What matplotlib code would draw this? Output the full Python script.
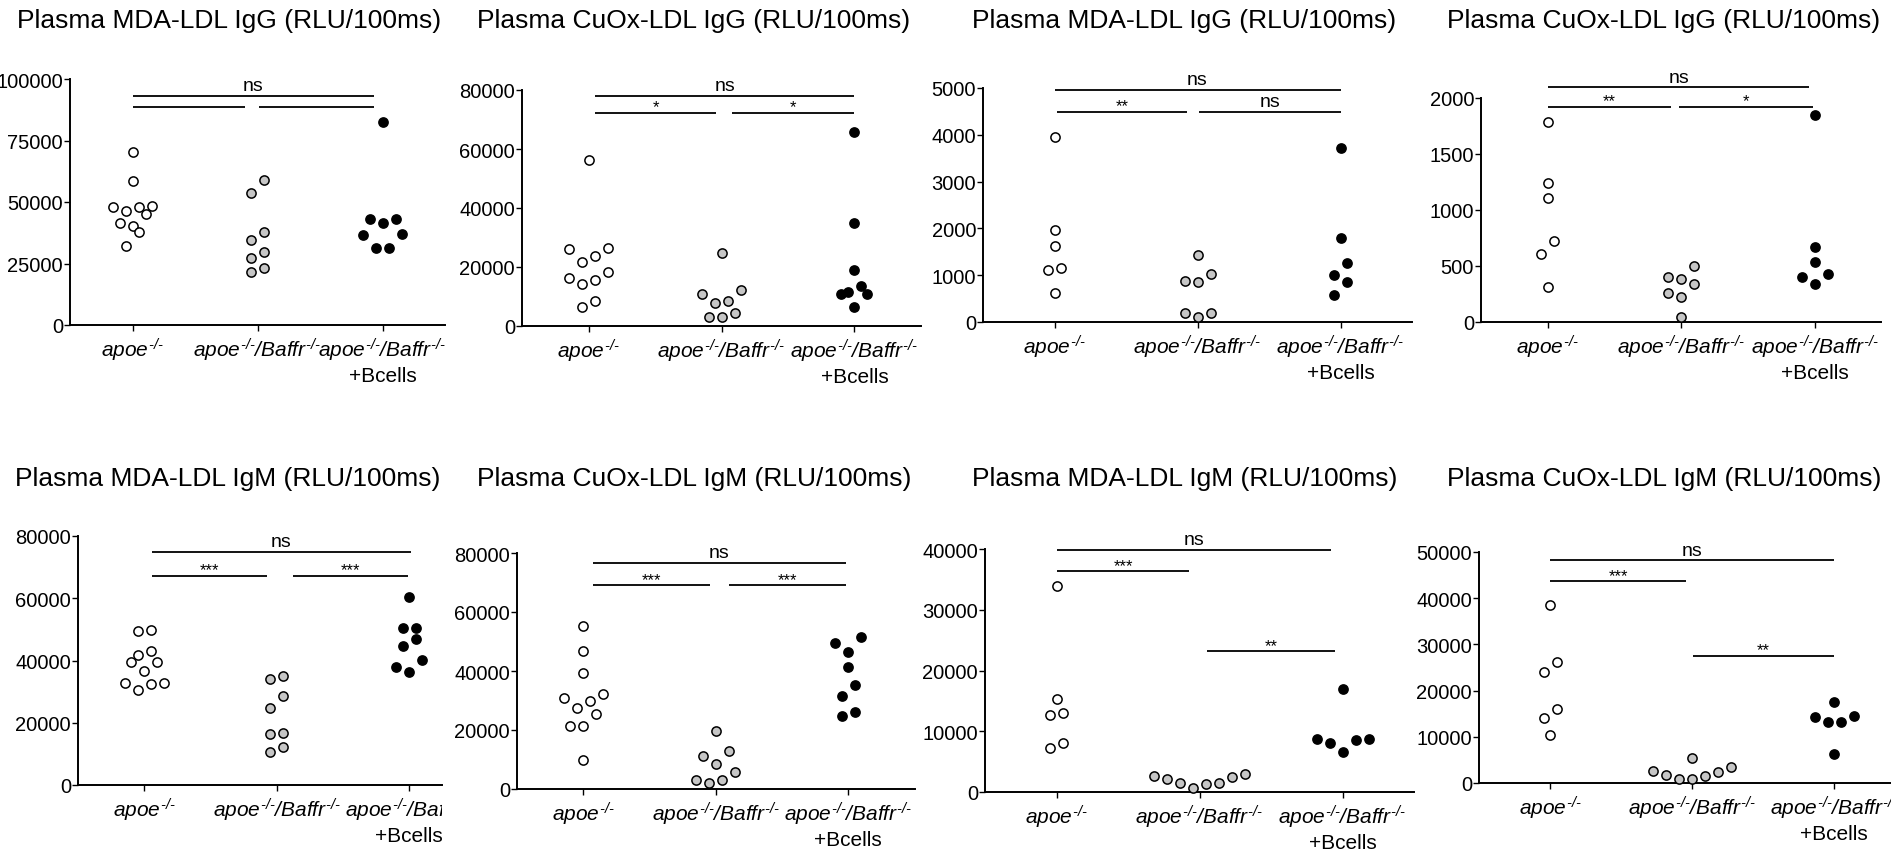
import numpy as np
import matplotlib
matplotlib.use("Agg")
import matplotlib.pyplot as plt
from matplotlib.patches import Rectangle

plt.rcParams['font.family'] = 'Liberation Sans'
plt.rcParams['mathtext.fontset'] = 'custom'
plt.rcParams['mathtext.rm'] = 'Liberation Sans:italic'
plt.rcParams['mathtext.it'] = 'Liberation Sans:italic'

W, H = 1891, 854

groups = [r'$apoe^{\text{-/-}}$',
          r'$apoe^{\text{-/-}}\text{/}Baffr^{\text{-/-}}$',
          r'$apoe^{\text{-/-}}\text{/}Baffr^{\text{-/-}}$' + '\n+Bcells']

titles = ['Plasma MDA-LDL IgG (RLU/100ms)', 'Plasma CuOx-LDL IgG (RLU/100ms)',
          'Plasma MDA-LDL IgG (RLU/100ms)', 'Plasma CuOx-LDL IgG (RLU/100ms)',
          'Plasma MDA-LDL IgM (RLU/100ms)', 'Plasma CuOx-LDL IgM (RLU/100ms)',
          'Plasma MDA-LDL IgM (RLU/100ms)', 'Plasma CuOx-LDL IgM (RLU/100ms)']

# values, one list per group
p1_apoe = [70500, 58500, 48200, 47800, 47800, 46300, 45000, 41500, 40100, 37700, 32000]
p1_baffr = [58900, 53800, 37700, 34400, 29700, 27400, 23300, 21400]
p1_bcells = [82700, 43100, 43000, 41500, 36900, 36600, 31400, 31200]

p2_apoe = [56200, 26500, 26100, 23600, 21600, 18400, 16200, 15600, 14200, 8600, 6300]
p2_baffr = [24900, 12200, 10700, 8500, 7900, 4300, 3200, 2900]
p2_bcells = [65700, 34900, 19000, 13600, 11500, 10800, 10800, 6300]

p3_apoe = [3960, 1970, 1630, 1160, 1110, 630]
p3_baffr = [1440, 1030, 870, 860, 200, 190, 110]
p3_bcells = [3710, 1790, 1270, 1000, 860, 570]

p4_apoe = [1790, 1240, 1110, 720, 610, 310]
p4_baffr = [500, 400, 380, 340, 260, 220, 45]
p4_bcells = [1850, 670, 540, 430, 400, 340]

p5_apoe = [49700, 49600, 42900, 41900, 39500, 39400, 36500, 32800, 32700, 32600, 30400]
p5_baffr = [34900, 34100, 28700, 24700, 16600, 16400, 12100, 10500]
p5_bcells = [60500, 50500, 50500, 46900, 44800, 40100, 37900, 36300]

p6_apoe = [55100, 46800, 39200, 32200, 30900, 29700, 27600, 25400, 21200, 21200, 9900]
p6_baffr = [19800, 13000, 11300, 8600, 5900, 3100, 3000, 2000]
p6_bcells = [51400, 49500, 46600, 41500, 35400, 31600, 26100, 24900]

p7_apoe = [33900, 15300, 13000, 12700, 8000, 7200]
p7_baffr = [2900, 2600, 2400, 2100, 1500, 1500, 1300, 600]
p7_bcells = [16900, 8800, 8700, 8500, 8000, 6600]

p8_apoe = [38600, 26100, 24000, 16000, 14100, 10300]
p8_baffr = [5500, 3500, 2500, 2400, 1700, 1500, 900, 900]
p8_bcells = [17500, 14600, 14200, 13300, 13300, 6300]

# significance bars: (from group, to group, height, label)
p1_bars = [(0, 1.93, 93200, 'ns'), (0, 0.9, 88700, ''), (1.01, 1.93, 88700, '')]
p2_bars = [(0.05, 2.0, 78000, 'ns'), (0.05, 0.96, 72200, '*'), (1.08, 2.0, 72200, '*')]
p3_bars = [(0, 2.0, 4965, 'ns'), (0.02, 0.93, 4495, '**'), (1.01, 2.0, 4495, 'ns')]
p4_bars = [(0, 1.96, 2096, 'ns'), (0, 0.92, 1922, '**'), (0.98, 1.99, 1922, '*')]
p5_bars = [(0.06, 2.01, 75000, 'ns'), (0.06, 0.93, 67200, '***'), (1.12, 1.99, 67200, '***')]
p6_bars = [(0.07, 1.98, 76600, 'ns'), (0.07, 0.96, 69100, '***'), (1.1, 1.98, 69100, '***')]
p7_bars = [(0, 1.92, 39840, 'ns'), (0, 0.93, 36360, '***'), (1.05, 1.95, 23200, '**')]
p8_bars = [(0, 2.0, 48200, 'ns'), (0, 0.96, 43650, '***'), (1.01, 2.0, 27500, '**')]

faces = ['white', '#c6c6c6', 'black']

# layout in pixels: axis left, axis top, axis bottom, px per group, clip right, title x, title baseline
panels = [
    dict(vals=(p1_apoe, p1_baffr, p1_bcells), ymax=100000, ystep=25000, bars=p1_bars,
         box=(70, 80, 326, 125), clip=None, tpos=(17, 28)),
    dict(vals=(p2_apoe, p2_baffr, p2_bcells), ymax=80000, ystep=20000, bars=p2_bars,
         box=(522, 91, 327, 133), clip=None, tpos=(477, 28)),
    dict(vals=(p3_apoe, p3_baffr, p3_bcells), ymax=5000, ystep=1000, bars=p3_bars,
         box=(983, 89, 323, 143), clip=None, tpos=(972, 28)),
    dict(vals=(p4_apoe, p4_baffr, p4_bcells), ymax=2000, ystep=500, bars=p4_bars,
         box=(1481, 99, 323, 133.5), clip=None, tpos=(1447, 28)),
    dict(vals=(p5_apoe, p5_baffr, p5_bcells), ymax=80000, ystep=20000, bars=p5_bars,
         box=(78, 537, 786, 132.5), clip=442, tpos=(15, 486)),
    dict(vals=(p6_apoe, p6_baffr, p6_bcells), ymax=80000, ystep=20000, bars=p6_bars,
         box=(517, 554, 790, 132.5), clip=None, tpos=(477, 486)),
    dict(vals=(p7_apoe, p7_baffr, p7_bcells), ymax=40000, ystep=10000, bars=p7_bars,
         box=(985, 550, 793, 143), clip=None, tpos=(972, 486)),
    dict(vals=(p8_apoe, p8_baffr, p8_bcells), ymax=50000, ystep=10000, bars=p8_bars,
         box=(1479, 553, 784, 142), clip=None, tpos=(1447, 486)),
]


def swarm_x(ax, center, values, row_px=14.5, step_px=13.0):
    # prism-like rows: points close in height share a row, lowest in the middle
    vals = np.asarray(values, dtype=float)
    ypx = ax.transData.transform(np.column_stack([np.full(len(vals), center), vals]))[:, 1]
    unit = ax.transData.transform((1, 0))[0] - ax.transData.transform((0, 0))[0]
    step = step_px / unit
    rows = []
    for i in np.argsort(vals, kind='stable'):
        if rows and ypx[i] - ypx[rows[-1][0]] < row_px:
            rows[-1].append(i)
        else:
            rows.append([i])
    xs = np.full(len(vals), float(center))
    for row in rows:
        n = len(row)
        if n % 2:
            slots = [0] + [s for k in range(1, n // 2 + 1) for s in (-k, k)]
        else:
            slots = [s for k in range(n // 2) for s in (-(k + 0.5), k + 0.5)]
        for i, s in zip(row, slots):
            xs[i] = center + s * step
    return xs


fig = plt.figure(figsize=(W / 100, H / 100), dpi=100)

for title, p in zip(titles, panels):
    left, top, bottom, unit = p['box']
    right = left + 3 * unit if p['clip'] is None else p['clip']
    ax = fig.add_axes([left / W, 1 - bottom / H, (right - left) / W, (bottom - top) / H])
    ax.set_xlim(-0.5, (right - left) / unit - 0.5)
    ax.set_ylim(0, p['ymax'])

    for spine in ['top', 'right']:
        ax.spines[spine].set_visible(False)
    for spine in ['left', 'bottom']:
        ax.spines[spine].set_linewidth(1.4)

    yt = np.arange(0, p['ymax'] + 1, p['ystep'])
    ax.set_yticks(yt)
    ax.set_yticklabels([str(int(v)) for v in yt])
    ax.set_xticks([0, 1, 2])
    ax.set_xticklabels(groups)
    ax.tick_params(axis='both', length=4, width=1.0, labelsize=14.5, colors='black')
    ax.tick_params(axis='y', pad=1)
    ax.tick_params(axis='x', pad=4, labelsize=15)

    if p['clip'] is not None:
        cut = Rectangle((0, 0), p['clip'] / W, 1, transform=fig.transFigure)
        for t in ax.get_xticklabels():
            t.set_clip_path(cut)

    for g, vals in enumerate(p['vals']):
        xs = swarm_x(ax, g, vals)
        ax.scatter(xs, vals, s=44, facecolor=faces[g], edgecolor='black',
                   linewidth=1.1, zorder=3, clip_on=False)

    for x1, x2, y, lab in p['bars']:
        ax.plot([x1, x2], [y, y], color='black', lw=1.3, clip_on=False,
                solid_capstyle='butt')
        if lab == 'ns':
            ax.annotate(lab, xy=((x1 + x2) / 2, y), xytext=(0, 4), textcoords='offset points',
                        ha='center', va='baseline', fontsize=14, annotation_clip=False)
        elif lab:
            ax.annotate(lab, xy=((x1 + x2) / 2, y), xytext=(0, 1), textcoords='offset points',
                        ha='center', va='baseline', fontsize=12, annotation_clip=False)

    tx, ty = p['tpos']
    fig.text(tx / W, 1 - ty / H, title, fontsize=19, ha='left', va='baseline')

fig.savefig('out.png', dpi=100)
